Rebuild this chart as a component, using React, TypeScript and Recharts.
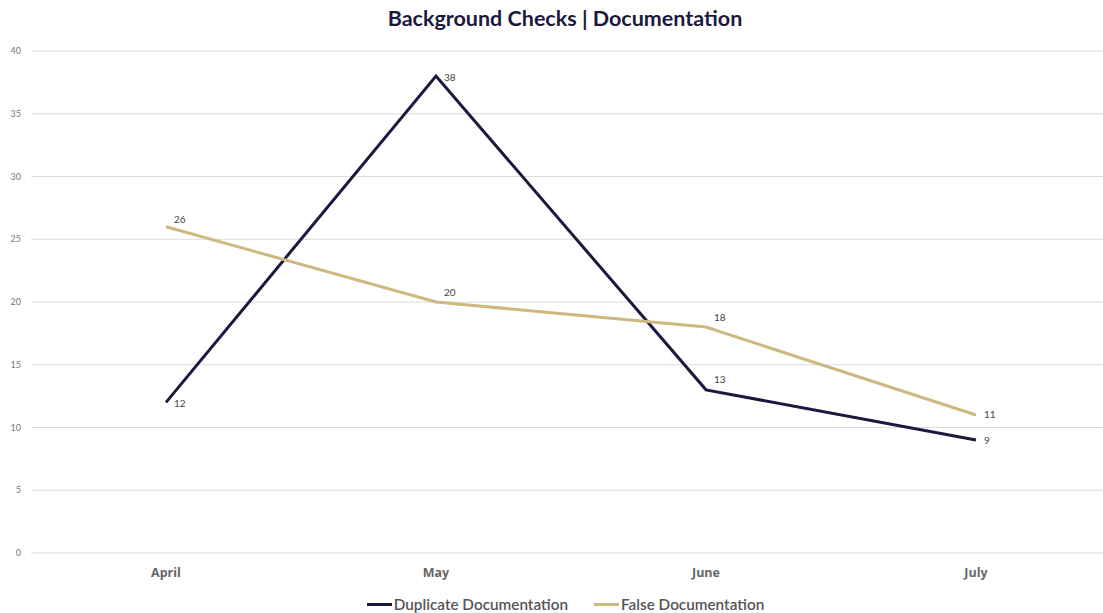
import React from 'react';
import { LineChart, Line, XAxis, YAxis, CartesianGrid, Legend, LabelList } from 'recharts';

const months = ['April', 'May', 'June', 'July'];
const duplicateDocs = [12, 38, 13, 9];
const falseDocs = [26, 20, 18, 11];
const yTicks = [0, 5, 10, 15, 20, 25, 30, 35, 40];

const data = months.map((m, i) => ({
  month: m,
  duplicate: duplicateDocs[i],
  falseDoc: falseDocs[i],
}));

const NAVY = '#1b1a3e';
const GOLD = '#cfb780';
const FONT = 'Lato, "Open Sans", sans-serif';

// label sits to the right of the point; lifted above the line when the line came down into it
const makeLabel = (values: number[], baseDy: number) => (props: any) => {
  const { x, y, value, index } = props;
  const last = index === values.length - 1;
  const cameDown = index > 0 && !last && values[index - 1] > value;
  const dy = last ? 1 : cameDown ? -9 : baseDy;
  return (
    <text x={x + 8} y={y + dy} fontSize={10} fill="#444" fontFamily={FONT} dominantBaseline="middle">
      {value}
    </text>
  );
};

const renderLegend = () => (
  <div style={{ display: 'flex', justifyContent: 'center', gap: 26, fontFamily: FONT, fontSize: 15.3, color: '#555', fontWeight: 600, paddingTop: 4, paddingLeft: 28 }}>
    {[
      { name: 'Duplicate Documentation', color: NAVY },
      { name: 'False Documentation', color: GOLD },
    ].map((item) => (
      <span key={item.name} style={{ display: 'flex', alignItems: 'center' }}>
        <span style={{ display: 'inline-block', width: 25, height: 3, background: item.color, marginRight: 2 }} />
        {item.name}
      </span>
    ))}
  </div>
);

export default function App() {
  return (
    <div style={{ position: 'absolute', left: 0, top: 0, width: 1103, height: 613, background: '#fff', overflow: 'hidden' }}>
      <div
        style={{
          position: 'absolute',
          top: 5,
          left: 0,
          width: 1130,
          textAlign: 'center',
          fontFamily: FONT,
          fontWeight: 700,
          fontSize: 21.5,
          color: NAVY,
        }}
      >
        Background Checks | Documentation
      </div>
      <LineChart width={1103} height={613} data={data} margin={{ top: 51, right: 0, bottom: 0, left: 0 }}>
        <CartesianGrid vertical={false} stroke="#dcdcdc" />
        <XAxis
          dataKey="month"
          axisLine={false}
          tickLine={false}
          padding={{ left: 135, right: 127 }}
          tickMargin={9}
          tick={{ fontSize: 12.5, fill: '#666', fontWeight: 700, fontFamily: '"Open Sans", sans-serif' }}
          height={38}
        />
        <YAxis
          width={31}
          domain={[0, 40]}
          ticks={yTicks}
          axisLine={false}
          tickLine={false}
          tickSize={0}
          tickMargin={10}
          tick={{ fontSize: 9, fill: '#777', fontFamily: FONT }}
        />
        <Legend verticalAlign="bottom" height={22} content={renderLegend} />
        <Line
          type="linear"
          dataKey="duplicate"
          name="Duplicate Documentation"
          stroke={NAVY}
          strokeWidth={3}
          dot={false}
          isAnimationActive={false}
        >
          <LabelList dataKey="duplicate" content={makeLabel(duplicateDocs, 2)} />
        </Line>
        <Line
          type="linear"
          dataKey="falseDoc"
          name="False Documentation"
          stroke={GOLD}
          strokeWidth={3}
          dot={false}
          isAnimationActive={false}
        >
          <LabelList dataKey="falseDoc" content={makeLabel(falseDocs, -6)} />
        </Line>
      </LineChart>
    </div>
  );
}
